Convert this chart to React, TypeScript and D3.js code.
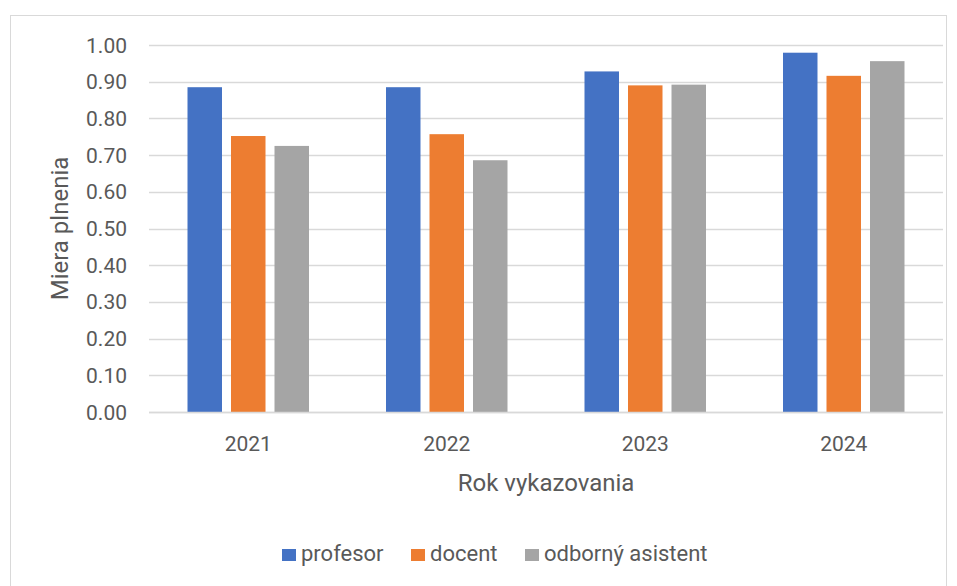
import React, { useRef, useEffect } from "react";
import { select, scaleLinear, scaleBand, range, format } from "d3";

const years = ["2021", "2022", "2023", "2024"];
const seriesNames = ["profesor", "docent", "odborný asistent"];
const profesor = [0.885, 0.885, 0.928, 0.979];
const docent = [0.752, 0.757, 0.89, 0.916];
const asistent = [0.725, 0.686, 0.892, 0.956];
const yTicks = [0, 0.1, 0.2, 0.3, 0.4, 0.5, 0.6, 0.7, 0.8, 0.9, 1.0];
const colors = ["#4472c4", "#ed7d31", "#a5a5a5"];

const FONT = "Roboto, 'Open Sans', sans-serif";
const TEXT = "#595959";

const App = () => {
  const svgRef = useRef<SVGSVGElement>(null);

  useEffect(() => {
    const width = 957;
    const height = 586;
    const margin = { top: 45, right: 14, bottom: 174, left: 149 };
    const allSeries = [profesor, docent, asistent];

    const svg = select(svgRef.current).attr("width", width).attr("height", height);
    svg.selectAll("*").remove();

    // chart frame
    svg
      .append("rect")
      .attr("x", 10.5)
      .attr("y", 15.5)
      .attr("width", 936)
      .attr("height", 600)
      .attr("fill", "#fff")
      .attr("stroke", "#d9d9d9");

    const yScale = scaleLinear()
      .domain([0, 1])
      .range([height - margin.bottom, margin.top]);

    const xScale = scaleBand()
      .domain(years)
      .range([margin.left, width - margin.right]);

    const groupWidth = 121.5;
    const inner = scaleBand()
      .domain(seriesNames)
      .range([0, groupWidth])
      .paddingInner(0.207);
    const offset = (xScale.bandwidth() - groupWidth) / 2;

    // grid
    svg
      .selectAll(".grid")
      .data(yTicks)
      .join("line")
      .attr("class", "grid")
      .attr("x1", margin.left)
      .attr("x2", width - margin.right)
      .attr("y1", (d) => Math.round(yScale(d)) + 0.5)
      .attr("y2", (d) => Math.round(yScale(d)) + 0.5)
      .attr("stroke", "#d9d9d9")
      .attr("stroke-width", 1.3);

    // y tick labels
    svg
      .selectAll(".ytick")
      .data(yTicks)
      .join("text")
      .attr("class", "ytick")
      .attr("x", 127)
      .attr("y", (d) => yScale(d))
      .attr("dy", "0.36em")
      .attr("text-anchor", "end")
      .attr("font-family", FONT)
      .attr("font-size", 21)
      .attr("fill", TEXT)
      .text((d) => format(".2f")(d));

    // bars
    const groups = svg
      .selectAll(".series")
      .data(allSeries)
      .join("g")
      .attr("class", "series")
      .attr("fill", (d, i) => colors[i]);

    groups
      .selectAll("rect")
      .data((values, si) => values.map((v, yi) => ({ v, yi, si })))
      .join("rect")
      .attr("x", (d) => xScale(years[d.yi])! + offset + inner(seriesNames[d.si])!)
      .attr("width", inner.bandwidth())
      .attr("y", (d) => yScale(d.v))
      .attr("height", (d) => yScale(0) - yScale(d.v));

    // axis baseline
    svg
      .append("line")
      .attr("x1", margin.left)
      .attr("x2", width - margin.right)
      .attr("y1", Math.round(yScale(0)) + 0.5)
      .attr("y2", Math.round(yScale(0)) + 0.5)
      .attr("stroke", "#d9d9d9")
      .attr("stroke-width", 1.3);

    // x tick labels
    svg
      .selectAll(".xtick")
      .data(years)
      .join("text")
      .attr("class", "xtick")
      .attr("x", (d) => xScale(d)! + xScale.bandwidth() / 2)
      .attr("y", 451)
      .attr("text-anchor", "middle")
      .attr("font-family", FONT)
      .attr("font-size", 21)
      .attr("fill", TEXT)
      .text((d) => d);

    // axis titles
    svg
      .append("text")
      .attr("x", (margin.left + width - margin.right) / 2)
      .attr("y", 491)
      .attr("text-anchor", "middle")
      .attr("font-family", FONT)
      .attr("font-size", 24)
      .attr("fill", TEXT)
      .text("Rok vykazovania");

    svg
      .append("text")
      .attr("transform", `translate(68, ${yScale(0.5)}) rotate(-90)`)
      .attr("text-anchor", "middle")
      .attr("font-family", FONT)
      .attr("font-size", 24)
      .attr("fill", TEXT)
      .text("Miera plnenia");

    // legend
    const legendX = [282, 411, 525];
    const legend = svg
      .selectAll(".legend")
      .data(range(seriesNames.length))
      .join("g")
      .attr("class", "legend")
      .attr("transform", (i) => `translate(${legendX[i]}, 561)`);

    legend
      .append("rect")
      .attr("x", 0)
      .attr("y", -12)
      .attr("width", 14)
      .attr("height", 12)
      .attr("fill", (i) => colors[i]);

    legend
      .append("text")
      .attr("x", 19)
      .attr("y", 0)
      .attr("font-family", FONT)
      .attr("font-size", 22)
      .attr("fill", TEXT)
      .text((i) => seriesNames[i]);
  }, []);

  return (
    <svg
      ref={svgRef}
      style={{ position: "absolute", left: 0, top: 0, background: "#fff" }}
    ></svg>
  );
};

export default App;
